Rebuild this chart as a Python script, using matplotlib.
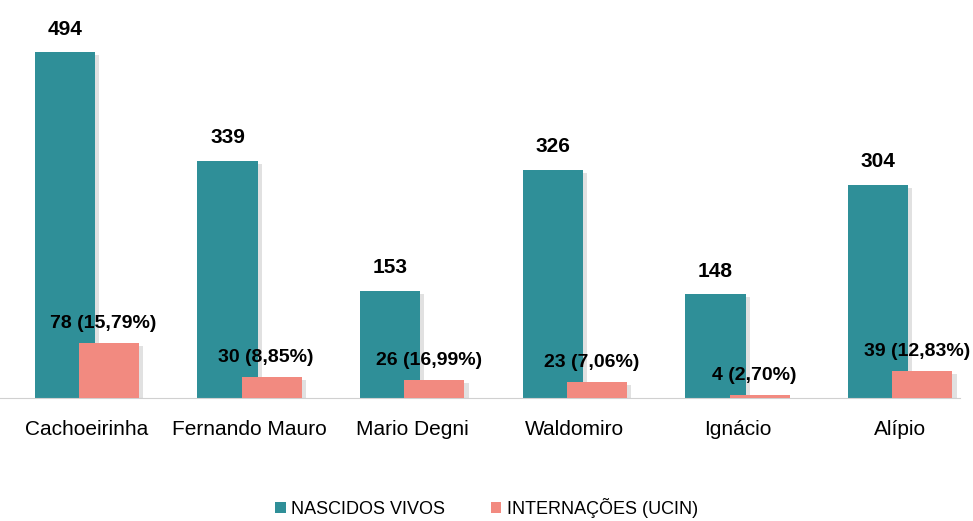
import numpy as np
import matplotlib.pyplot as plt
import matplotlib.patheffects as pe

categorias = ['Cachoeirinha', 'Fernando Mauro', 'Mario Degni', 'Waldomiro', 'Ignácio', 'Alípio']
nascidos = [494, 339, 153, 326, 148, 304]
internacoes = [78, 30, 26, 23, 4, 39]
percentuais = ['15,79%', '8,85%', '16,99%', '7,06%', '2,70%', '12,83%']

cor_nasc = '#2F8F98'
cor_int = '#F28A80'

plt.rcParams['font.family'] = ['Liberation Sans', 'DejaVu Sans']

fig = plt.figure(figsize=(9.73, 5.21), dpi=100)
ax = fig.add_axes([0, 0.236, 0.987, 0.752])

x = np.arange(len(categorias))
larg = 0.37
desl = 0.136
sombra = [pe.SimplePatchShadow(offset=(3, -2), shadow_rgbFace='#888888', alpha=0.25), pe.Normal()]

b1 = ax.bar(x - desl, nascidos, larg, color=cor_nasc, label='NASCIDOS VIVOS', zorder=2)
b2 = ax.bar(x + desl, internacoes, larg, color=cor_int, label='INTERNAÇÕES (UCIN)', zorder=3)
for b in list(b1) + list(b2):
    b.set_path_effects(sombra)

for xi, v in zip(x, nascidos):
    ax.annotate(str(v), (xi - desl, v), xytext=(0, 10), textcoords='offset points',
                ha='center', va='bottom', fontsize=15, fontweight='bold')
for xi, v, p in zip(x, internacoes, percentuais):
    ax.annotate(f'{v} ({p})', (xi + desl, v), xytext=(-4, 8), textcoords='offset points',
                ha='center', va='bottom', fontsize=14, fontweight='bold', zorder=5)

ax.set_xlim(-0.535, 5.37)
ax.set_ylim(0, 560)
ax.set_xticks(x)
ax.set_xticklabels(categorias, fontsize=15)
ax.tick_params(axis='x', length=0, pad=16)
ax.set_yticks([])
for s in ['top', 'right', 'left']:
    ax.spines[s].set_visible(False)
ax.spines['bottom'].set_color('#D0D0D0')

leg = fig.legend(loc='lower center', bbox_to_anchor=(0.5, -0.025), ncol=2, frameon=False,
                 fontsize=13, handlelength=0.6, handleheight=0.6, handletextpad=0.3, columnspacing=2.5)
for h in leg.legend_handles:
    h.set_path_effects([])

fig.savefig('out.png', dpi=100)
